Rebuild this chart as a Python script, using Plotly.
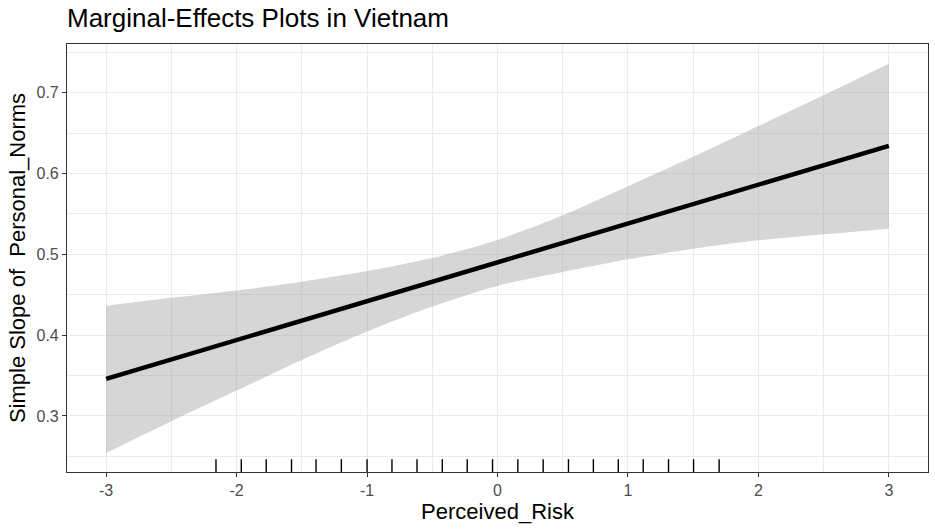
import plotly.graph_objects as go

# Data
band_x = [-3, -2.5, -2, -1.5, -1, -0.5, 0, 0.5, 1, 1.5, 2, 2.5, 3]
band_upper = [0.4364, 0.4463, 0.4554, 0.4661, 0.4793, 0.4955, 0.5178,
              0.5483, 0.5843, 0.6207, 0.6587, 0.6971, 0.7360]
band_lower = [0.2541, 0.2934, 0.3314, 0.3694, 0.4045, 0.4355, 0.4610,
              0.4781, 0.4938, 0.5070, 0.5174, 0.5248, 0.5318]
line_x = [-3, 3]
line_y = [0.3459, 0.6343]
rug_x = [-2.158, -1.964, -1.773, -1.579, -1.391, -1.197, -1.0, -0.809, -0.617, -0.423,
         -0.232, -0.038, 0.156, 0.350, 0.544, 0.735, 0.926, 1.117, 1.311, 1.503, 1.699]
x_ticks = [-3, -2, -1, 0, 1, 2, 3]
y_ticks = [0.3, 0.4, 0.5, 0.6, 0.7]

FONT = "Liberation Sans, Arial, sans-serif"

fig = go.Figure()
fig.add_trace(go.Scatter(x=band_x, y=band_upper, mode="lines",
                         line=dict(width=0, shape="spline", smoothing=0.8),
                         hoverinfo="skip", showlegend=False))
fig.add_trace(go.Scatter(x=band_x, y=band_lower, mode="lines",
                         line=dict(width=0, shape="spline", smoothing=0.8),
                         fill="tonexty", fillcolor="rgba(153,153,153,0.4)",
                         hoverinfo="skip", showlegend=False))
fig.add_trace(go.Scatter(x=line_x, y=line_y, mode="lines",
                         line=dict(color="black", width=4.5), showlegend=False))

for rx in rug_x:
    fig.add_shape(type="line", xref="x", yref="y domain", x0=rx, x1=rx, y0=0, y1=0.03,
                  line=dict(color="black", width=1.4))

fig.update_layout(
    width=935, height=529,
    margin=dict(l=67, r=7, t=44, b=57),
    paper_bgcolor="white", plot_bgcolor="white",
    font=dict(family=FONT, color="black"),
    title=dict(text="Marginal-Effects Plots in Vietnam", xref="paper", x=0, xanchor="left",
               yref="container", y=1 - 18 / 529, yanchor="middle",
               font=dict(size=26, family=FONT, color="black")),
    xaxis=dict(range=[-3.3, 3.3], tickvals=x_ticks, ticktext=[str(v) for v in x_ticks],
               automargin=False,
               showgrid=True, gridcolor="#EBEBEB", gridwidth=1.1,
               minor=dict(dtick=0.5, showgrid=True, gridcolor="#EBEBEB", gridwidth=0.55),
               zeroline=False, showline=True, linecolor="#333333", linewidth=1.1, mirror=True,
               ticks="outside", ticklen=4, tickcolor="#333333", tickwidth=1.1,
               tickfont=dict(size=16, color="#4D4D4D"),
               title=dict(text="Perceived_Risk", font=dict(size=22, color="black"), standoff=4)),
    yaxis=dict(range=[0.2307, 0.7603], tickvals=y_ticks, ticktext=[f"{v:.1f}" for v in y_ticks],
               automargin=False,
               showgrid=True, gridcolor="#EBEBEB", gridwidth=1.1,
               minor=dict(tickvals=[0.25, 0.35, 0.45, 0.55, 0.65, 0.75], showgrid=True,
                          gridcolor="#EBEBEB", gridwidth=0.55),
               zeroline=False, showline=True, linecolor="#333333", linewidth=1.1, mirror=True,
               ticks="outside", ticklen=4, tickcolor="#333333", tickwidth=1.1,
               tickfont=dict(size=16, color="#4D4D4D"),
               title=dict(text="Simple Slope of \u00a0Personal_Norms", font=dict(size=22, color="black"),
                          standoff=4)),
)

fig.write_html("out.html", config={"displayModeBar": False},
               post_script="document.body.style.margin='0';")
